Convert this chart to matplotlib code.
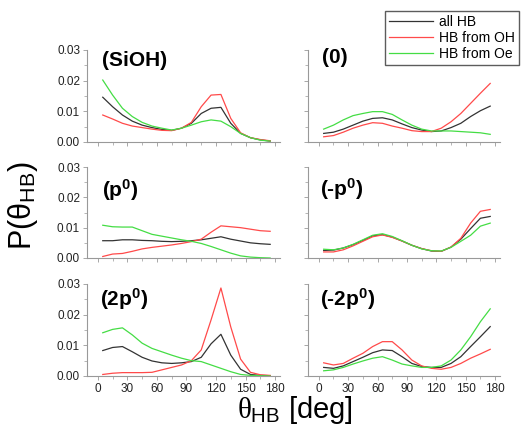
import numpy as np
import matplotlib
matplotlib.use("Agg")
import matplotlib.pyplot as plt
from matplotlib.ticker import MultipleLocator

plt.rcParams['font.family'] = ['Liberation Sans', 'DejaVu Sans']
plt.rcParams['mathtext.fontset'] = 'custom'
plt.rcParams['mathtext.rm'] = 'Liberation Sans'
plt.rcParams['mathtext.bf'] = 'Liberation Sans:bold'
plt.rcParams['mathtext.it'] = 'Liberation Serif'

# angle bins (deg)
theta = [5, 15, 25, 35, 45, 55, 65, 75, 85, 95, 105, 115, 125, 135, 145, 155, 165, 175]

panel_names = ['(SiOH)', '(0)', r'(p$^\mathbf{0}$)', r'(-p$^\mathbf{0}$)',
               r'(2p$^\mathbf{0}$)', r'(-2p$^\mathbf{0}$)']

# all HB
all_siOH = [0.0146, 0.0115, 0.0088, 0.0068, 0.0055, 0.0047, 0.0041, 0.0038, 0.0045,
            0.0061, 0.0093, 0.0110, 0.0113, 0.0061, 0.0028, 0.0014, 0.0007, 0.0003]
all_0 = [0.0028, 0.0032, 0.0042, 0.0055, 0.0068, 0.0077, 0.0079, 0.0072, 0.0059,
         0.0047, 0.0039, 0.0034, 0.0036, 0.0047, 0.0061, 0.0083, 0.0102, 0.0117]
all_p = [0.0057, 0.0057, 0.0060, 0.0060, 0.0058, 0.0057, 0.0055, 0.0054, 0.0055,
         0.0057, 0.0060, 0.0065, 0.0070, 0.0062, 0.0056, 0.0050, 0.0047, 0.0045]
all_mp = [0.0025, 0.0026, 0.0033, 0.0044, 0.0058, 0.0073, 0.0077, 0.0069, 0.0056,
          0.0042, 0.0031, 0.0023, 0.0022, 0.0036, 0.0062, 0.0097, 0.0131, 0.0137]
all_2p = [0.0083, 0.0093, 0.0096, 0.0079, 0.0061, 0.0049, 0.0043, 0.0041, 0.0043,
          0.0047, 0.0061, 0.0105, 0.0136, 0.0068, 0.0022, 0.0005, 0.0002, 0.0001]
all_m2p = [0.0028, 0.0025, 0.0033, 0.0047, 0.0061, 0.0076, 0.0085, 0.0083, 0.0063,
           0.0041, 0.0031, 0.0028, 0.0028, 0.0041, 0.0063, 0.0096, 0.0128, 0.0161]

# HB from OH
oh_siOH = [0.0088, 0.0075, 0.0061, 0.0052, 0.0047, 0.0042, 0.0038, 0.0037, 0.0045,
           0.0064, 0.0115, 0.0153, 0.0155, 0.0077, 0.0030, 0.0014, 0.0008, 0.0004]
oh_0 = [0.0017, 0.0021, 0.0032, 0.0045, 0.0055, 0.0063, 0.0061, 0.0052, 0.0045,
        0.0037, 0.0034, 0.0034, 0.0045, 0.0066, 0.0093, 0.0126, 0.0159, 0.0191]
oh_p = [0.0005, 0.0013, 0.0015, 0.0022, 0.0030, 0.0035, 0.0039, 0.0043, 0.0048,
        0.0054, 0.0062, 0.0085, 0.0106, 0.0103, 0.0100, 0.0095, 0.0090, 0.0088]
oh_mp = [0.0020, 0.0020, 0.0027, 0.0040, 0.0055, 0.0070, 0.0076, 0.0068, 0.0056,
         0.0042, 0.0031, 0.0024, 0.0022, 0.0036, 0.0065, 0.0115, 0.0154, 0.0160]
oh_2p = [0.0005, 0.0009, 0.0011, 0.0011, 0.0011, 0.0012, 0.0020, 0.0028, 0.0036,
         0.0050, 0.0085, 0.0183, 0.0287, 0.0160, 0.0055, 0.0012, 0.0004, 0.0002]
oh_m2p = [0.0043, 0.0036, 0.0041, 0.0058, 0.0074, 0.0096, 0.0112, 0.0112, 0.0085,
          0.0052, 0.0033, 0.0025, 0.0022, 0.0028, 0.0041, 0.0058, 0.0072, 0.0087]

# HB from Oe
oe_siOH = [0.0202, 0.0153, 0.0110, 0.0083, 0.0064, 0.0052, 0.0045, 0.0039, 0.0045,
           0.0055, 0.0066, 0.0072, 0.0068, 0.0050, 0.0028, 0.0014, 0.0006, 0.0003]
oe_0 = [0.0042, 0.0055, 0.0072, 0.0086, 0.0093, 0.0099, 0.0099, 0.0090, 0.0072,
        0.0055, 0.0042, 0.0036, 0.0036, 0.0036, 0.0034, 0.0032, 0.0030, 0.0025]
oe_p = [0.0108, 0.0103, 0.0102, 0.0102, 0.0090, 0.0078, 0.0072, 0.0066, 0.0060,
        0.0055, 0.0048, 0.0038, 0.0027, 0.0016, 0.0007, 0.0003, 0.0001, 0.0000]
oe_mp = [0.0029, 0.0027, 0.0033, 0.0045, 0.0060, 0.0075, 0.0080, 0.0071, 0.0057,
         0.0042, 0.0030, 0.0024, 0.0023, 0.0035, 0.0055, 0.0075, 0.0105, 0.0115]
oe_2p = [0.0141, 0.0152, 0.0157, 0.0134, 0.0107, 0.0090, 0.0079, 0.0068, 0.0058,
         0.0050, 0.0047, 0.0036, 0.0025, 0.0014, 0.0005, 0.0002, 0.0001, 0.0000]
oe_m2p = [0.0017, 0.0020, 0.0028, 0.0039, 0.0049, 0.0058, 0.0063, 0.0052, 0.0039,
          0.0033, 0.0028, 0.0028, 0.0033, 0.0052, 0.0085, 0.0128, 0.0177, 0.0219]

all_hb = [all_siOH, all_0, all_p, all_mp, all_2p, all_m2p]
from_oh = [oh_siOH, oh_0, oh_p, oh_mp, oh_2p, oh_m2p]
from_oe = [oe_siOH, oe_0, oe_p, oe_mp, oe_2p, oe_m2p]

W, H = 522, 428
fig = plt.figure(figsize=(W / 100, H / 100), dpi=100)

col_x = [87, 308]
col_w = [193, 192]
row_top = [50, 167, 284]
row_bot = [142, 258, 376]
label_pos = [(0.078, 0.89), (0.073, 0.92), (0.078, 0.74),
             (0.063, 0.75), (0.067, 0.83), (0.063, 0.83)]

c_all, c_oh, c_oe = '#333333', '#ff4a4a', '#44dd44'
lines = []
for i in range(6):
    r, c = i // 2, i % 2
    ax = fig.add_axes([col_x[c] / W, 1 - row_bot[r] / H, col_w[c] / W,
                       (row_bot[r] - row_top[r]) / H])
    l1, = ax.plot(theta, all_hb[i], color=c_all, lw=0.9)
    l2, = ax.plot(theta, from_oh[i], color=c_oh, lw=0.9)
    l3, = ax.plot(theta, from_oe[i], color=c_oe, lw=0.9)
    lines = [l1, l2, l3]
    ax.set_xlim(-11, 185)
    ax.set_ylim(0, 0.03)
    ax.xaxis.set_major_locator(MultipleLocator(30))
    ax.xaxis.set_minor_locator(MultipleLocator(15))
    ax.yaxis.set_major_locator(MultipleLocator(0.01))
    ax.yaxis.set_minor_locator(MultipleLocator(0.005))
    for s in ['top', 'right']:
        ax.spines[s].set_visible(False)
    for s in ['left', 'bottom']:
        ax.spines[s].set_color('#999999')
        ax.spines[s].set_linewidth(0.8)
    ax.tick_params(which='major', direction='out', length=3, width=0.6,
                   color='#999999', labelsize=8.5, labelcolor='#222222', pad=2)
    ax.tick_params(which='minor', direction='out', length=2, width=0.5,
                   color='#999999')
    ax.yaxis.set_major_formatter(matplotlib.ticker.FormatStrFormatter('%.2f'))
    if c == 1:
        ax.tick_params(labelleft=False)
    if r < 2:
        ax.tick_params(labelbottom=False)
    ax.text(label_pos[i][0], label_pos[i][1], panel_names[i], transform=ax.transAxes,
            fontsize=15, fontweight='bold', ha='left', va='center')

fig.legend(lines, ['all HB', 'HB from OH', 'HB from Oe'], loc='upper right',
           bbox_to_anchor=(0.994, 0.975), fontsize=10, frameon=True, fancybox=False,
           edgecolor='#333333', handlelength=3.2, borderpad=0.3, labelspacing=0.15,
           handletextpad=0.4, borderaxespad=0)

fig.text(0.044, 0.52, r'P(θ$_{\mathrm{HB}}$)', rotation=90, fontsize=22,
         ha='center', va='center')
fig.text(0.565, 0.004, r'$\theta_{\mathrm{HB}}$ [deg]', fontsize=21,
         ha='center', va='bottom')

fig.savefig('out.png', dpi=100)
